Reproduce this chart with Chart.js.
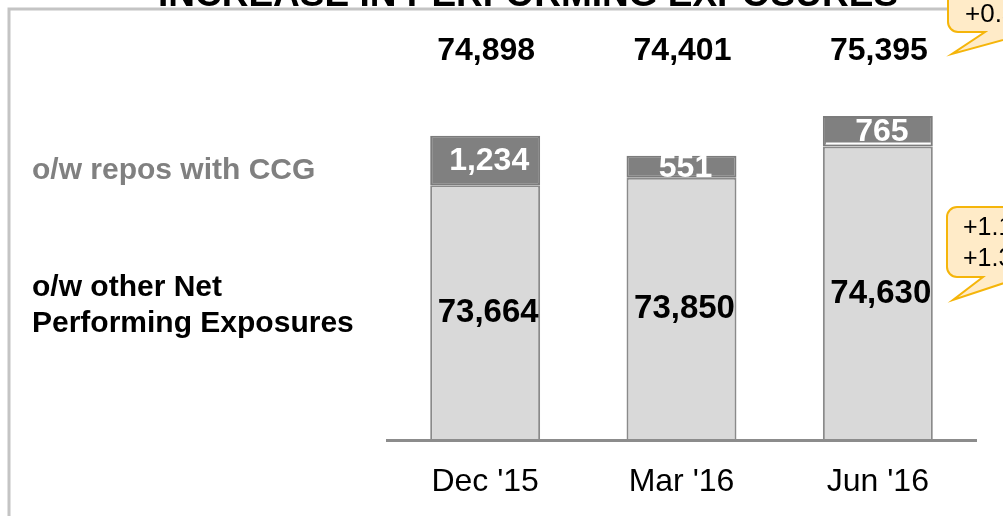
<!DOCTYPE html>
<html>
<head>
<meta charset="utf-8">
<script src="https://cdn.jsdelivr.net/npm/chart.js@4.4.0/dist/chart.umd.min.js"></script>
<style>
body { margin: 0; background: #fff; }
#wrap { width: 1003px; height: 516px; }
</style>
</head>
<body>
<div id="wrap"><canvas id="barChart" width="1003" height="516"></canvas></div>
<script>
// data
var periods = ["Dec '15", "Mar '16", "Jun '16"];
var otherNpe = [73664, 73850, 74630];
var reposCcg = [1234, 551, 765];
var totals = [74898, 74401, 75395];
var seriesNames = ["o/w other Net Performing Exposures", "o/w repos with CCG"];
var titleText = "INCREASE IN PERFORMING EXPOSURES";
var noteTop = ["+0.5bn"];
var noteMid = ["+1.1bn", "+1.3%"];

function fmt(v) {
  return v.toLocaleString('en-US');
}

function callout(ctx, left, top, bottom, baseA, baseB, tipX, tipY) {
  var right = 1100, r = 10;
  ctx.beginPath();
  ctx.moveTo(left + r, top);
  ctx.lineTo(right, top);
  ctx.lineTo(right, bottom);
  ctx.lineTo(baseB, bottom);
  ctx.lineTo(tipX, tipY);
  ctx.lineTo(baseA, bottom);
  ctx.lineTo(left + r, bottom);
  ctx.arcTo(left, bottom, left, bottom - r, r);
  ctx.lineTo(left, top + r);
  ctx.arcTo(left, top, left + r, top, r);
  ctx.closePath();
  ctx.fillStyle = '#ffebc8';
  ctx.fill();
  ctx.lineWidth = 2;
  ctx.strokeStyle = '#f5b50a';
  ctx.stroke();
}

var slideText = {
  id: 'slideText',
  afterDraw: function(chart) {
    var ctx = chart.ctx;
    var area = chart.chartArea;
    var lower = chart.getDatasetMeta(0).data;
    var upper = chart.getDatasetMeta(1).data;
    ctx.save();

    // frame of the slide box
    ctx.strokeStyle = '#c4c4c4';
    ctx.lineWidth = 3;
    ctx.beginPath();
    ctx.moveTo(9, 520);
    ctx.lineTo(9, 9);
    ctx.lineTo(1010, 9);
    ctx.stroke();

    // title, mostly cut off by the crop
    ctx.fillStyle = '#000';
    ctx.textAlign = 'center';
    ctx.textBaseline = 'alphabetic';
    ctx.font = 'bold 37px "Liberation Sans", Arial, sans-serif';
    ctx.fillText(titleText, 528, 6);

    // white separator on the last bar
    var j = upper[2];
    ctx.strokeStyle = '#ffffff';
    ctx.lineWidth = 2;
    ctx.beginPath();
    ctx.moveTo(j.x - j.width / 2 + 3, j.base - 3);
    ctx.lineTo(j.x + j.width / 2 - 2, j.base - 3);
    ctx.stroke();

    ctx.textAlign = 'center';
    ctx.textBaseline = 'middle';
    for (var i = 0; i < periods.length; i++) {
      var lo = lower[i], up = upper[i];
      ctx.fillStyle = '#000';
      ctx.font = 'bold 32px "Liberation Sans", Arial, sans-serif';
      ctx.fillText(fmt(totals[i]), lo.x + 1, 51);
      ctx.font = 'bold 33px "Liberation Sans", Arial, sans-serif';
      ctx.fillText(fmt(otherNpe[i]), lo.x + 3, (lo.y + area.bottom) / 2);
      ctx.fillStyle = '#fff';
      ctx.font = 'bold 32px "Liberation Sans", Arial, sans-serif';
      ctx.fillText(fmt(reposCcg[i]), up.x + 4, (up.y + up.base) / 2 + 1);
    }

    // series labels on the left
    ctx.textAlign = 'left';
    ctx.font = 'bold 30px "Liberation Sans", Arial, sans-serif';
    ctx.fillStyle = '#808080';
    ctx.fillText(seriesNames[1], 32, 171);
    ctx.fillStyle = '#000';
    ctx.fillText("o/w other Net", 32, 288);
    ctx.fillText("Performing Exposures", 32, 324);

    // callouts at the right edge
    callout(ctx, 948, -40, 32, 985, 1032, 952, 54);
    callout(ctx, 947, 207, 277, 983, 1022, 953, 300);
    ctx.fillStyle = '#000';
    ctx.font = '26px "Liberation Sans", Arial, sans-serif';
    ctx.fillText(noteTop[0], 965, 15);
    ctx.font = '25px "Liberation Sans", Arial, sans-serif';
    ctx.fillText(noteMid[0], 963, 228);
    ctx.fillText(noteMid[1], 963, 259);

    ctx.restore();
  }
};

var ctxB = document.getElementById("barChart").getContext('2d');
var myBarChart = new Chart(ctxB, {
  type: 'bar',
  data: {
    labels: periods,
    datasets: [{
      label: seriesNames[0],
      data: otherNpe,
      backgroundColor: '#d9d9d9',
      borderColor: '#8a8a8a',
      borderWidth: 2,
      borderSkipped: false
    }, {
      label: seriesNames[1],
      data: reposCcg,
      backgroundColor: '#808080',
      borderColor: '#7c7c7c',
      borderWidth: 2,
      borderSkipped: false
    }]
  },
  options: {
    responsive: false,
    animation: false,
    layout: { padding: { left: 387, right: 27, top: 0, bottom: -7 } },
    datasets: { bar: { categoryPercentage: 1, barPercentage: 0.56 } },
    plugins: {
      legend: { display: false },
      tooltip: { enabled: false }
    },
    scales: {
      x: {
        stacked: true,
        grid: { display: false, drawTicks: false },
        border: { display: true, color: '#8c8c8c', width: 3, z: 1 },
        ticks: {
          color: '#000',
          padding: 22,
          font: { family: '"Liberation Sans", Arial, sans-serif', size: 32 }
        }
      },
      y: {
        stacked: true,
        display: false,
        min: 67290,
        max: 78290
      }
    }
  },
  plugins: [slideText]
});
</script>
</body>
</html>
